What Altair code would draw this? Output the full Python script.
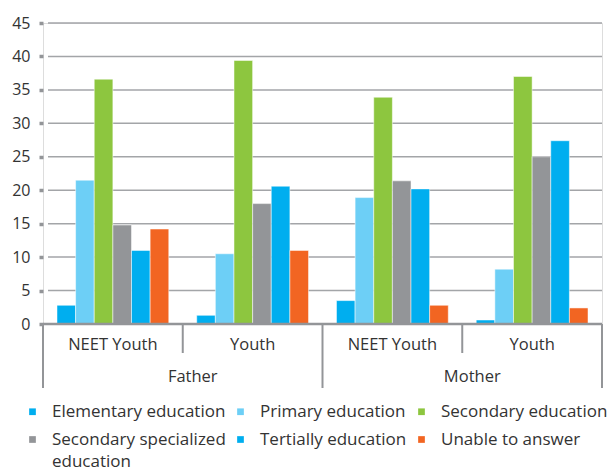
import altair as alt
import pandas as pd

parents = ["Father", "Father", "Mother", "Mother"]
groups = ["NEET Youth", "Youth", "NEET Youth", "Youth"]
parent_names = ["Father", "Mother"]
education = [
    "Elementary education",
    "Primary education",
    "Secondary education",
    "Secondary specialized education",
    "Tertially education",
    "Unable to answer",
]
colors = ["#00AEEF", "#6DCFF6", "#8DC63F", "#939598", "#00AEEF", "#F26522"]

father_neet = [2.8, 21.5, 36.6, 14.8, 11.0, 14.2]
father_youth = [1.3, 10.5, 39.4, 18.0, 20.6, 11.0]
mother_neet = [3.5, 18.9, 33.9, 21.4, 20.2, 2.8]
mother_youth = [0.6, 8.2, 37.0, 25.0, 27.4, 2.4]

y_ticks = [0, 5, 10, 15, 20, 25, 30, 35, 40, 45]

keys = [f"{p} {g}" for p, g in zip(parents, groups)]
series = [father_neet, father_youth, mother_neet, mother_youth]
rows = []
for k, p, g, vals in zip(keys, parents, groups, series):
    for e, v in zip(education, vals):
        rows.append({"key": k, "parent": p, "group": g, "education": e, "value": v})
df = pd.DataFrame(rows)

W, H = 559, 301
FONT = "Open Sans"
TXT = "#333333"
AXC = "#939598"

xscale = alt.Scale(domain=keys, paddingInner=0, paddingOuter=0)
yscale = alt.Scale(domain=[0, 45], nice=False)
yaxis = alt.Axis(
    values=y_ticks, title=None, domain=False, grid=False,
    tickSize=4, tickWidth=3.5, tickColor=AXC,
    labelFontSize=16, labelPadding=9, labelColor=TXT, labelFont=FONT,
)

grid = alt.Chart(pd.DataFrame({"v": y_ticks[1:]})).mark_rule(
    color="#a3a5a8", strokeWidth=1.5
).encode(
    y=alt.Y("v:Q", scale=yscale, axis=yaxis),
    x=alt.value(5),
    x2=alt.value(W),
)

bars = alt.Chart(df).mark_bar(stroke="white", strokeWidth=0.5).encode(
    x=alt.X("key:N", scale=xscale, axis=None),
    xOffset=alt.XOffset(
        "education:N", sort=education,
        scale=alt.Scale(domain=education, paddingOuter=0.75, paddingInner=0),
    ),
    y=alt.Y("value:Q", scale=yscale, axis=yaxis),
    color=alt.Color(
        "education:N",
        scale=alt.Scale(domain=education, range=colors),
        legend=alt.Legend(
            title=None, orient="none", legendX=-19, legendY=380, columns=3,
            direction="horizontal",
            symbolType="square", symbolSize=45, symbolStrokeWidth=0,
            labelFontSize=17, labelFont=FONT, labelColor=TXT, labelLimit=400,
            labelOffset=11, columnPadding=6, rowPadding=10,
            labelExpr="datum.label == 'Secondary specialized education' ? ['Secondary specialized', 'education'] : datum.label",
        ),
    ),
)

baseline = alt.Chart(pd.DataFrame({"v": [0]})).mark_rule(
    color=AXC, strokeWidth=2.5
).encode(
    y=alt.Y("v:Q", scale=yscale, axis=yaxis),
    x=alt.value(0),
    x2=alt.value(W),
)

inner_sep = alt.Chart(pd.DataFrame({"key": [keys[1], keys[3]]})).mark_rule(
    color=AXC, strokeWidth=2
).encode(
    x=alt.X("key:N", scale=xscale, axis=None, bandPosition=0),
    y=alt.value(H),
    y2=alt.value(H + 29),
)

outer_sep_left = alt.Chart(pd.DataFrame({"key": [keys[0], keys[2]]})).mark_rule(
    color=AXC, strokeWidth=2
).encode(
    x=alt.X("key:N", scale=xscale, axis=None, bandPosition=0),
    y=alt.value(H),
    y2=alt.value(H + 64),
)

outer_sep_right = alt.Chart(pd.DataFrame({"key": [keys[3]]})).mark_rule(
    color=AXC, strokeWidth=2
).encode(
    x=alt.X("key:N", scale=xscale, axis=None, bandPosition=1),
    y=alt.value(H),
    y2=alt.value(H + 64),
)

group_labels = alt.Chart(pd.DataFrame({"key": keys, "label": groups})).mark_text(
    font=FONT, fontSize=16.5, color=TXT, baseline="middle", align="center"
).encode(
    x=alt.X("key:N", scale=xscale, axis=None),
    y=alt.value(322),
    text="label:N",
)

parent_labels = alt.Chart(
    pd.DataFrame({"key": [keys[1], keys[3]], "label": parent_names})
).mark_text(
    font=FONT, fontSize=16.5, color=TXT, baseline="middle", align="center", dx=10
).encode(
    x=alt.X("key:N", scale=xscale, axis=None, bandPosition=0),
    y=alt.value(354),
    text="label:N",
)

chart = alt.layer(
    grid, bars, baseline, inner_sep, outer_sep_left, outer_sep_right,
    group_labels, parent_labels,
).properties(
    width=W, height=H,
    autosize=alt.AutoSizeParams(type="none"),
    padding={"left": 43, "top": 23, "right": 6, "bottom": 147},
).configure_view(stroke=None).configure(
    background="white",
    style={"guide-label": {"lineHeight": 22}},
)

chart.save("out.html", embed_options={"renderer": "svg", "actions": False})
